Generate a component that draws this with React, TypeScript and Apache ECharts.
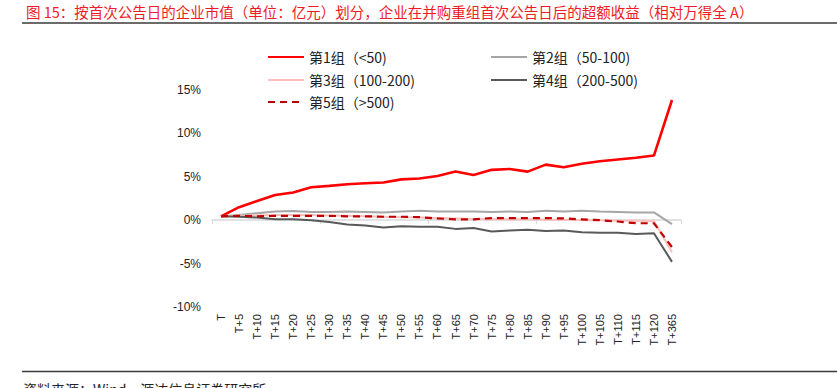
import React, { useEffect, useRef } from "react";
import * as echarts from "echarts";

const categories = [
  "T", "T+5", "T+10", "T+15", "T+20", "T+25", "T+30", "T+35", "T+40", "T+45",
  "T+50", "T+55", "T+60", "T+65", "T+70", "T+75", "T+80", "T+85", "T+90", "T+95",
  "T+100", "T+105", "T+110", "T+115", "T+120", "T+365",
];

const seriesNames = ["第1组（<50)", "第2组（50-100)", "第3组（100-200)", "第4组（200-500)", "第5组（>500)"];

const group1 = [0.45, 1.5, 2.2, 2.9, 3.2, 3.8, 3.95, 4.15, 4.25, 4.35, 4.7, 4.8, 5.1, 5.6, 5.2, 5.8, 5.9, 5.6, 6.4, 6.1, 6.5, 6.8, 7.0, 7.2, 7.45, 13.85];
const group2 = [0.45, 0.6, 0.8, 1.0, 1.05, 0.95, 0.95, 1.0, 0.95, 0.9, 1.0, 1.1, 1.0, 1.0, 1.0, 0.95, 1.0, 0.95, 1.1, 1.0, 1.1, 1.0, 0.95, 0.9, 0.9, -0.45];
const group3 = [0.45, 0.5, 0.55, 0.6, 0.6, 0.6, 0.55, 0.5, 0.45, 0.4, 0.35, 0.3, 0.25, 0.2, 0.15, 0.1, 0.1, 0.1, 0.05, 0.05, 0.0, 0.0, -0.05, -0.05, -0.1, -3.7];
const group4 = [0.45, 0.4, 0.3, 0.1, 0.1, 0.0, -0.2, -0.5, -0.6, -0.85, -0.7, -0.75, -0.75, -1.0, -0.9, -1.3, -1.2, -1.1, -1.25, -1.2, -1.4, -1.45, -1.45, -1.6, -1.5, -4.8];
const group5 = [0.45, 0.5, 0.45, 0.5, 0.5, 0.5, 0.5, 0.45, 0.45, 0.4, 0.4, 0.35, 0.2, 0.1, 0.1, 0.25, 0.25, 0.25, 0.25, 0.2, 0.1, 0.0, -0.15, -0.35, -0.35, -3.1];

const titleText = "图 15：按首次公告日的企业市值（单位：亿元）划分，企业在并购重组首次公告日后的超额收益（相对万得全 A）";
const sourceText = "资料来源：Wind，源达信息证券研究所";

export default function App() {
  const ref = useRef<HTMLDivElement>(null);
  useEffect(() => {
    if (!ref.current) return;
    const chart = echarts.init(ref.current, null, { renderer: "svg" });
    const cjk = "'Noto Sans CJK SC', 'Liberation Sans', sans-serif";
    const latin = "'Liberation Sans', 'Noto Sans CJK SC', sans-serif";
    const legendCommon = {
      itemWidth: 36,
      itemHeight: 12,
      itemGap: 4,
      padding: 0,
      itemStyle: { opacity: 0 },
      textStyle: { fontFamily: cjk, fontSize: 14, color: "#222" },
    };
    const series = [
      { data: group1, color: "#FF0000", width: 2.6, type: "solid" },
      { data: group2, color: "#A6A6A6", width: 2, type: "solid" },
      { data: group3, color: "#FFBDBD", width: 2, type: "solid" },
      { data: group4, color: "#595959", width: 2, type: "solid" },
      { data: group5, color: "#C00000", width: 2.2, type: [7, 5] },
    ].map((s, i) => ({
      name: seriesNames[i],
      type: "line",
      xAxisIndex: 0,
      data: s.data,
      symbol: "none",
      showSymbol: false,
      color: s.color,
      lineStyle: { color: s.color, width: s.width, type: s.type },
    }));
    chart.setOption({
      animation: false,
      grid: { left: 212, right: 156, top: 90, bottom: 81, containLabel: false },
      legend: [
        { ...legendCommon, data: [seriesNames[0]], left: 267, top: 50 },
        { ...legendCommon, data: [seriesNames[1]], left: 490, top: 50 },
        { ...legendCommon, data: [seriesNames[2]], left: 267, top: 73 },
        { ...legendCommon, data: [seriesNames[3]], left: 490, top: 73 },
        { ...legendCommon, data: [seriesNames[4]], left: 267, top: 95 },
      ],
      xAxis: [
        {
          type: "category",
          data: categories,
          position: "bottom",
          boundaryGap: true,
          axisLine: { show: false, onZero: false },
          axisTick: { show: false },
          axisLabel: {
            rotate: 90,
            interval: 0,
            margin: 7,
            fontSize: 11,
            fontFamily: latin,
            color: "#222",
          },
          splitLine: { show: false },
        },
        {
          type: "category",
          data: categories,
          position: "top",
          boundaryGap: true,
          axisLine: { show: true, onZero: true, lineStyle: { color: "#D9D9D9", width: 1.5 } },
          axisTick: { show: true, inside: true, interval: 5, length: 4, lineStyle: { color: "#D9D9D9" } },
          axisLabel: { show: false },
          splitLine: { show: false },
        },
      ],
      yAxis: {
        type: "value",
        min: -10,
        max: 15,
        interval: 5,
        axisLine: { show: false },
        axisTick: { show: false },
        splitLine: { show: false },
        axisLabel: {
          formatter: "{value}%",
          margin: 11,
          fontSize: 12,
          fontFamily: latin,
          color: "#222",
        },
      },
      series,
      graphic: [
        {
          type: "text",
          left: 26,
          top: 4,
          style: { text: titleText, fontFamily: cjk, fontSize: 14.5, fill: "#EE1C25" },
        },
        {
          type: "line",
          shape: { x1: 22, y1: 23, x2: 837, y2: 23 },
          style: { stroke: "#3A3A3A", lineWidth: 1.5 },
        },
        {
          type: "line",
          shape: { x1: 22, y1: 371.5, x2: 837, y2: 371.5 },
          style: { stroke: "#3A3A3A", lineWidth: 1.5 },
        },
        {
          type: "text",
          left: 23,
          top: 382,
          style: { text: sourceText, fontFamily: cjk, fontSize: 14, fill: "#222" },
        },
      ],
    });
    return () => chart.dispose();
  }, []);
  return (
    <div
      ref={ref}
      style={{ position: "absolute", left: 0, top: 0, width: 837, height: 388, background: "#fff" }}
    />
  );
}
